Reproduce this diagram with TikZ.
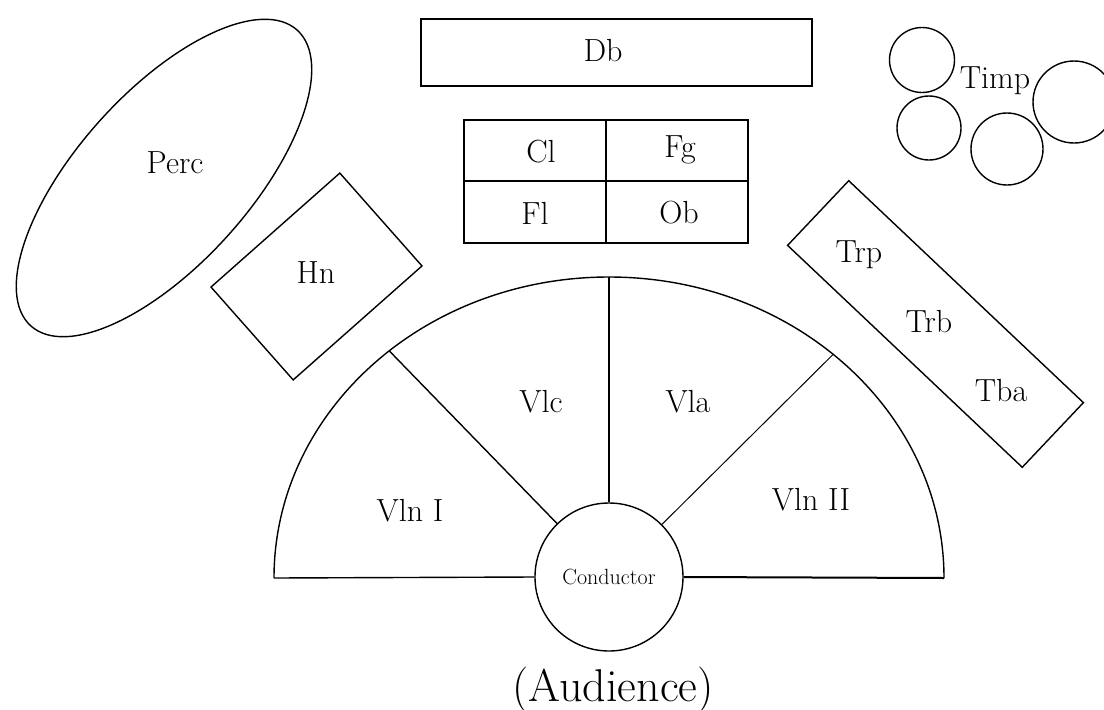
\documentclass[tikz,border=0pt]{standalone}
\usetikzlibrary{shapes.geometric,calc}
\begin{document}
\begin{tikzpicture}[x=1pt,y=-1pt,line width=1.4pt,
  lbl/.style={font=\fontsize{32}{38}\selectfont, inner sep=0pt},
  box/.style={draw, inner sep=0pt},
  drum/.style={draw, circle, inner sep=0pt}]
\useasboundingbox (0,0) rectangle (1104,710);
\fill[white] (0,0) rectangle (1104,710);
% Percussion
\node[box, ellipse, minimum width=398pt, minimum height=172pt, rotate=48] (perc) at (164,178) {};
\node[lbl] (perclbl) at (175,163) {Perc};
% Horns
\node[box, minimum width=172pt, minimum height=124pt, rotate=41.5] (hn) at (316.5,276.5) {};
\node[lbl] (hnlbl) at (316,273) {Hn};
% Double bass
\node[box, minimum width=391pt, minimum height=67pt] (db) at (616.5,52.5) {};
\node[lbl] (dblbl) at (603,51) {Db};
% Woodwinds
\draw[line width=2pt] (464,120) rectangle (748,243);
\draw[line width=1.6pt] (606,120) -- (606,243) (464,181) -- (748,181);
\node[lbl] (cl) at (541,152) {Cl};
\node[lbl] (fg) at (680,150) {Fg};
\node[lbl] (fl) at (535,213) {Fl};
\node[lbl] (ob) at (679,213) {Ob};
% Brass
\node[box, minimum width=323pt, minimum height=89pt, rotate=-43.4] (brass) at (935.5,324) {};
\node[lbl] (trp) at (859,255) {Trp};
\node[lbl] (trb) at (929,322) {Trb};
\node[lbl] (tba) at (1001,391) {Tba};
% Timpani
\node[drum, minimum size=65pt] (t1) at (922,60) {};
\node[drum, minimum size=64pt] (t2) at (929,128) {};
\node[drum, minimum size=72pt] (t3) at (1007,149) {};
\node[drum, minimum size=82pt] (t4) at (1074,102) {};
\node[lbl] (timp) at (995,81) {Timp};
% Strings
\node[drum, minimum size=148pt] (cond) at (609,577) {};
\node[font=\fontsize{22}{26}\selectfont, inner sep=0pt] (condlbl) at (609,577) {Conductor};
\coordinate (L) at (274,578);
\coordinate (R) at (944,578);
\coordinate (T) at (609,277);
\coordinate (AL) at (389.2,350.8);
\coordinate (AR) at (833.2,354.3);
\draw (L) arc[start angle=180, end angle=360, x radius=335, y radius=301];
\draw (L) -- (cond.west);
\draw[line width=2pt] (cond.east) -- (R);
\draw (T) -- (cond.north);
\draw (AL) -- (cond);
\draw[line width=1pt] (AR) -- (cond);
\node[lbl] (vln1) at (410,511) {Vln I};
\node[lbl] (vlc) at (541,402) {Vlc};
\node[lbl] (vla) at (688,402) {Vla};
\node[lbl] (vln2) at (811,500) {Vln II};
\node[font=\fontsize{46}{52}\selectfont, inner sep=0pt, anchor=base] (aud) at (613,701) {(Audience)};
\end{tikzpicture}
\end{document}
